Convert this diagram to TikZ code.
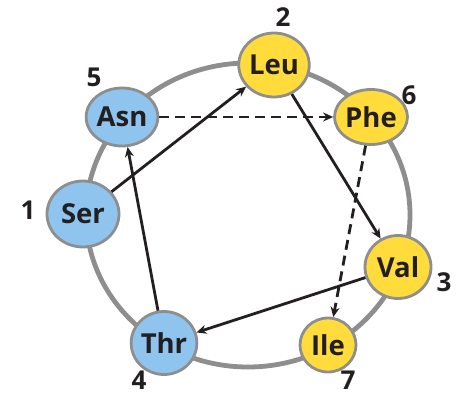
\documentclass[tikz,border=0pt]{standalone}
\usepackage{fontspec}
\setmainfont{Open Sans}
\usetikzlibrary{shapes.geometric,arrows.meta}
\definecolor{aablue}{HTML}{8EC4EE}
\definecolor{aayel}{HTML}{FFDC3C}
\definecolor{ringgray}{HTML}{8E8E8E}
\definecolor{ink}{HTML}{231F20}
\tikzset{
  res/.style={ellipse, draw=ringgray, line width=2.8pt, inner sep=0pt,
    font=\fontsize{27.5}{27.5}\selectfont\bfseries, text=ink},
  hydro/.style={res, fill=aayel},
  polar/.style={res, fill=aablue},
  num/.style={font=\fontsize{26}{26}\selectfont\bfseries, text=ink, inner sep=0pt},
  conn/.style={draw=ink, line width=2.8pt, -{Stealth[length=10pt,width=9pt]}},
  dconn/.style={conn, dash pattern=on 10pt off 6pt},
}
\begin{document}
\begin{tikzpicture}[x=1pt,y=-1pt]
\useasboundingbox (0,0) rectangle (459,397);
\draw[ringgray, line width=4.8pt] (248,215) ellipse [x radius=162, y radius=152];
\node[hydro, minimum width=68pt, minimum height=64pt] (leu) at (274,65) {Leu};
\node[hydro, minimum width=58pt, minimum height=55pt] (phe) at (371,117) {Phe};
\node[hydro, minimum width=66pt, minimum height=63pt] (val) at (398,267) {Val};
\node[hydro, minimum width=56pt, minimum height=54pt] (ile) at (328,345) {Ile};
\node[polar, minimum width=62pt, minimum height=58pt] (asn) at (122,117) {Asn};
\node[polar, minimum width=72pt, minimum height=66pt] (ser) at (83,214) {Ser};
\node[polar, minimum width=64pt, minimum height=63pt] (thr) at (164,343) {Thr};
\node[num] (n1) at (28,210) {1};
\node[num] (n2) at (283,17) {2};
\node[num] (n3) at (444,282) {3};
\node[num] (n4) at (139,380) {4};
\node[num] (n5) at (94,77) {5};
\node[num] (n6) at (409,95) {6};
\node[num] (n7) at (348,380) {7};
\draw[conn] (ser) -- (leu);
\draw[conn] (leu) -- (val);
\draw[conn] (val) -- (thr);
\draw[conn] (thr) -- (asn);
\draw[dconn] (asn) -- (phe);
\draw[dconn] (phe) -- (ile);
\end{tikzpicture}
\end{document}
